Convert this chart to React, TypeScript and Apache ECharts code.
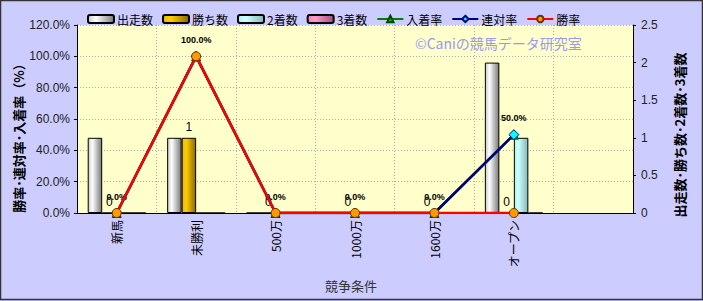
import React, { useEffect, useRef } from "react";
import * as echarts from "echarts";

const categories = ["新馬", "未勝利", "500万", "1000万", "1600万", "オープン", ""];
const starts = [1, 1, 0, 0, 0, 2, null];
const wins = [0, 1, 0, 0, 0, 0, null];
const seconds = [0, 0, 0, 0, 0, 1, null];
const thirds = [0, 0, 0, 0, 0, 0, null];
const placeRate = [0, 100, 0, 0, 0, 50, null];
const quinellaRate = [0, 100, 0, 0, 0, 50, null];
const winRate = [0, 100, 0, 0, 0, 0, null];
const leftTicks = { min: 0, max: 120, interval: 20 };
const rightTicks = { min: 0, max: 2.5, interval: 0.5 };

const FONT = '"Liberation Sans", "Noto Sans CJK JP", sans-serif';
const JFONT = '"Noto Sans CJK JP", sans-serif';

function grad(c0: string, c1: string, c2: string) {
  return new echarts.graphic.LinearGradient(0, 0, 1, 0, [
    { offset: 0, color: c0 },
    { offset: 0.3, color: c1 },
    { offset: 1, color: c2 },
  ]);
}

export default function App() {
  const ref = useRef<HTMLDivElement>(null);
  useEffect(() => {
    document.body.style.margin = "0";
    const chart = echarts.init(ref.current!, undefined, { renderer: "svg" });
    const barBase = {
      type: "bar",
      yAxisIndex: 1,
      barWidth: 14.5,
      barGap: "0%",
      barCategoryGap: "27%",
    };
    chart.setOption({
      animation: false,
      backgroundColor: "#CCCCFF",
      textStyle: { fontFamily: FONT },
      grid: { left: 77, right: 70, top: 25, bottom: 88, show: true, backgroundColor: "#FFFFCC", borderWidth: 0 },
      legend: {
        left: 82,
        top: 8,
        itemWidth: 26,
        itemHeight: 8,
        itemGap: 9,
        textStyle: { fontFamily: JFONT, fontSize: 12, color: "#000", padding: [0, 0, 0, -2] },
        data: ["出走数", "勝ち数", "2着数", "3着数", "入着率", "連対率", "勝率"],
      },
      xAxis: {
        type: "category",
        data: categories,
        boundaryGap: true,
        axisLine: { lineStyle: { color: "#000", width: 1 } },
        axisTick: { show: false },
        splitLine: { show: true, lineStyle: { color: "#aaa", type: [1, 2], width: 1 } },
        axisLabel: { rotate: 90, margin: 7, fontFamily: JFONT, fontSize: 12, color: "#000", interval: 0 },
      },
      yAxis: [
        {
          type: "value",
          ...leftTicks,
          position: "left",
          axisLine: { show: true, lineStyle: { color: "#000" } },
          axisTick: { show: true, length: 3, lineStyle: { color: "#000" } },
          splitLine: { show: true, lineStyle: { color: "#aaa", type: [1, 2], width: 1 } },
          axisLabel: { formatter: (v: number) => v.toFixed(1) + "%", fontSize: 12, color: "#222", margin: 7 },
        },
        {
          type: "value",
          ...rightTicks,
          position: "right",
          axisLine: { show: true, lineStyle: { color: "#000" } },
          axisTick: { show: true, length: 3, lineStyle: { color: "#000" } },
          splitLine: { show: false },
          axisLabel: { fontSize: 12, color: "#222", margin: 8 },
        },
      ],
      graphic: [
        {
          type: "rect",
          shape: { x: 0.5, y: 0.5, width: 702, height: 299 },
          style: { fill: "none", stroke: "#333", lineWidth: 1.5 },
          silent: true,
          z: 100,
        },
        {
          type: "text",
          x: 18,
          y: 135,
          rotation: Math.PI / 2,
          style: { text: "勝率･連対率･入着率（%）", align: "center", verticalAlign: "middle", font: `bold 13px ${JFONT}`, fill: "#000" },
        },
        {
          type: "text",
          x: 679,
          y: 135,
          rotation: Math.PI / 2,
          style: { text: "出走数･勝ち数･2着数･3着数", align: "center", verticalAlign: "middle", font: `bold 13px ${JFONT}`, fill: "#000" },
        },
        {
          type: "text",
          x: 351,
          y: 285,
          style: { text: "競争条件", align: "center", verticalAlign: "middle", font: `13px ${JFONT}`, fill: "#333" },
        },
        {
          type: "text",
          x: 415,
          y: 43,
          style: { text: "©Caniの競馬データ研究室", align: "left", verticalAlign: "middle", font: `14px ${JFONT}`, fill: "#9999EE" },
        },
      ],
      series: [
        {
          ...barBase,
          name: "出走数",
          data: starts,
          itemStyle: { color: grad("#c8c8c8", "#ffffff", "#7a7a7a"), borderColor: "#000", borderWidth: 1 },
        },
        {
          ...barBase,
          name: "勝ち数",
          data: wins,
          itemStyle: { color: grad("#e6b800", "#ffcc00", "#8a6a00"), borderColor: "#000", borderWidth: 1 },
          label: { show: true, position: "top", distance: 5, fontSize: 12, color: "#000", fontFamily: FONT },
        },
        {
          ...barBase,
          name: "2着数",
          data: seconds,
          itemStyle: { color: grad("#b8eeee", "#ccffff", "#86b8b8"), borderColor: "#000", borderWidth: 1 },
        },
        {
          ...barBase,
          name: "3着数",
          data: thirds,
          itemStyle: { color: grad("#e88ab8", "#ff99cc", "#a0507a"), borderColor: "#000", borderWidth: 1 },
        },
        {
          type: "line",
          name: "入着率",
          yAxisIndex: 0,
          data: placeRate,
          symbol: "triangle",
          symbolSize: 9,
          lineStyle: { color: "#008000", width: 2.5 },
          itemStyle: { color: "#00CC00", borderColor: "#004400", borderWidth: 1 },
          label: {
            show: true,
            position: "top",
            distance: 7,
            formatter: (p: any) => Number(p.value).toFixed(1) + "%",
            fontSize: 9,
            fontWeight: "bold",
            color: "#000",
            fontFamily: FONT,
          },
          z: 3,
        },
        {
          type: "line",
          name: "連対率",
          yAxisIndex: 0,
          data: quinellaRate,
          symbol: "diamond",
          symbolSize: 10,
          lineStyle: { color: "#000080", width: 2.5 },
          itemStyle: { color: "#00FFFF", borderColor: "#000080", borderWidth: 1 },
          z: 4,
        },
        {
          type: "line",
          name: "勝率",
          yAxisIndex: 0,
          data: winRate,
          symbol: "circle",
          symbolSize: 9,
          lineStyle: { color: "#FF0000", width: 2.5 },
          itemStyle: { color: "#FF9900", borderColor: "#663300", borderWidth: 1 },
          z: 5,
        },
      ],
    });
    return () => chart.dispose();
  }, []);
  return <div ref={ref} style={{ width: 703, height: 301 }} />;
}
